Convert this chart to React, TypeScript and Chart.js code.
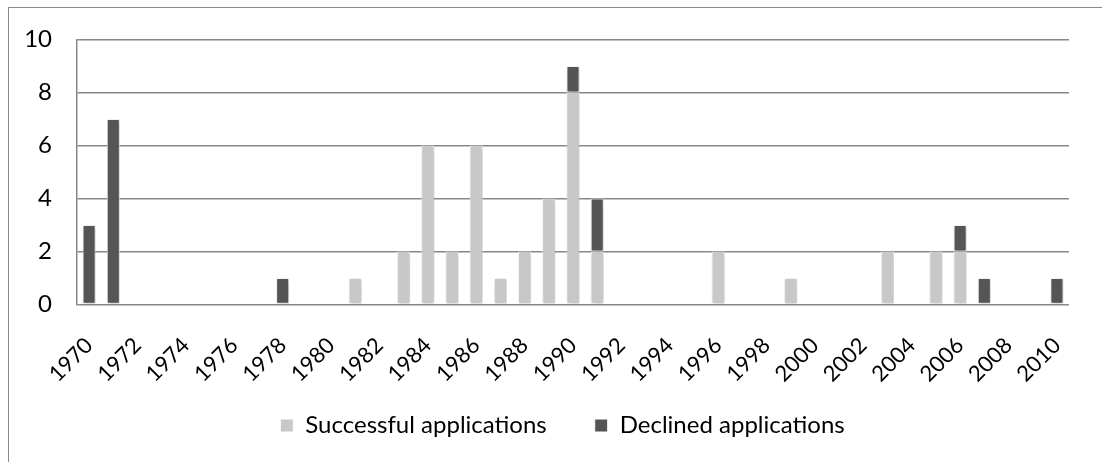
import { useEffect, useRef } from 'react';
import { Chart, registerables } from 'chart.js';

Chart.register(...registerables);

const years = [
  '1970', '1971', '1972', '1973', '1974', '1975', '1976', '1977', '1978', '1979',
  '1980', '1981', '1982', '1983', '1984', '1985', '1986', '1987', '1988', '1989',
  '1990', '1991', '1992', '1993', '1994', '1995', '1996', '1997', '1998', '1999',
  '2000', '2001', '2002', '2003', '2004', '2005', '2006', '2007', '2008', '2009',
  '2010',
];

const successful = [
  null, null, null, null, null, null, null, null, null, null,
  null, 1, null, 2, 6, 2, 6, 1, 2, 4,
  8, 2, null, null, null, null, 2, null, null, 1,
  null, null, null, 2, null, 2, 2, null, null, null,
  null,
];

const declined = [
  3, 7, null, null, null, null, null, null, 1, null,
  null, null, null, null, null, null, null, null, null, null,
  1, 2, null, null, null, null, null, null, null, null,
  null, null, null, null, null, null, 1, 1, null, null,
  1,
];

const yTicks = [0, 2, 4, 6, 8, 10];

const FONT = 'Lato, "Open Sans", "DejaVu Sans", sans-serif';

export default function App() {
  const ref = useRef<HTMLCanvasElement>(null);

  useEffect(() => {
    if (!ref.current) return;
    const shadowPlugin = {
      id: 'barShadow',
      beforeDatasetsDraw(chart: any) {
        const c = chart.ctx;
        c.save();
        c.shadowColor = 'rgba(0,0,0,0.28)';
        c.shadowBlur = 4;
        c.shadowOffsetX = 1;
        c.shadowOffsetY = 1;
      },
      afterDatasetsDraw(chart: any) {
        chart.ctx.restore();
      },
    };
    // nudge the legend box so it sits where the reference places it
    const legendShift = {
      id: 'legendShift',
      afterLayout(chart: any) {
        const lg = chart.legend;
        if (!lg) return;
        lg.left += 15.5;
        lg.right += 15.5;
        lg.top -= 19;
        lg.bottom -= 19;
      },
    };

    const chart = new Chart(ref.current, {
      type: 'bar',
      data: {
        labels: years,
        datasets: [
          {
            label: 'Successful applications',
            data: successful,
            backgroundColor: '#c8c8c8',
            borderColor: '#ffffff',
            borderWidth: 1,
            borderSkipped: false,
          },
          {
            label: 'Declined applications',
            data: declined,
            backgroundColor: '#555555',
            borderColor: '#ffffff',
            borderWidth: 1,
            borderSkipped: false,
          },
        ],
      },
      plugins: [shadowPlugin, legendShift],
      options: {
        responsive: false,
        animation: false,
        devicePixelRatio: 1,
        layout: { padding: { left: 25, right: 33, top: 37, bottom: 13.5 } },
        datasets: {
          bar: { barPercentage: 0.54, categoryPercentage: 1 },
        },
        plugins: {
          tooltip: { enabled: false },
          legend: {
            position: 'bottom',
            labels: {
              boxWidth: 13,
              boxHeight: 13,
              padding: 48,
              color: '#000',
              font: { family: FONT, size: 24 },
            },
          },
        },
        scales: {
          x: {
            stacked: true,
            grid: { display: false },
            border: { display: false },
            ticks: {
              autoSkip: false,
              minRotation: 45,
              maxRotation: 45,
              padding: 20,
              color: '#000',
              font: { family: FONT, size: 22 },
              callback: (_v: any, i: number) => (i % 2 === 0 ? years[i] : ''),
            },
            afterFit: (s: any) => {
              s.height = 80;
              s.paddingLeft = 0;
              s.paddingRight = 0;
            },
          },
          y: {
            stacked: true,
            min: 0,
            max: 10,
            grid: { color: '#878787', lineWidth: 1.5, drawTicks: false },
            border: { display: true, color: '#878787', width: 1.5 },
            ticks: {
              padding: 25,
              color: '#000',
              font: { family: FONT, size: 24 },
            },
            afterBuildTicks: (s: any) => {
              s.ticks = yTicks.map((v) => ({ value: v }));
            },
            afterFit: (s: any) => {
              s.width = 52;
            },
          },
        },
      },
    });
    return () => chart.destroy();
  }, []);

  return (
    <div
      style={{
        position: 'fixed',
        left: 0,
        top: 0,
        width: 1102,
        height: 462,
        overflow: 'hidden',
        background: '#ffffff',
      }}
    >
      <div
        style={{
          position: 'absolute',
          left: 8,
          top: 7,
          width: 1100,
          height: 490,
          border: '1px solid #8a8a8a',
        }}
      />
      <canvas
        ref={ref}
        width={1102}
        height={480}
        style={{ position: 'absolute', left: 0, top: 0 }}
      />
    </div>
  );
}
